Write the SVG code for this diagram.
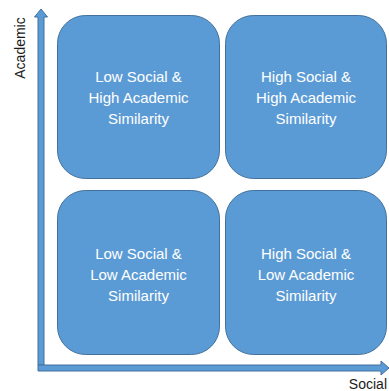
<svg xmlns="http://www.w3.org/2000/svg" width="389" height="391" viewBox="0 0 389 391">
<style>
.box{fill:#5B9BD5;stroke:#41719C;stroke-width:1}
.arr{fill:#5B9BD5;stroke:#41719C;stroke-width:1}
.lbl{font-family:"Liberation Sans",Arial,sans-serif;font-size:15px;fill:#FFFFFF;text-anchor:middle}
.ax{font-family:"Liberation Sans",Arial,sans-serif;font-size:14px;fill:#1a1a1a}
</style>
<rect width="389" height="391" fill="#FFFFFF"/>
<g id="connectors">
<polygon class="arr" points="38,365 38,17 34.5,17 41,9 47.5,17 44,17 44,365"/>
<polygon class="arr" points="38,365 381,365 381,361 389,368 381,375 381,371 38,371"/>
</g>
<g id="node-tl">
<rect class="box" x="57.5" y="15.5" width="162" height="163" rx="28" ry="28"/>
<text class="lbl" x="138.5" y="82">Low Social &amp;</text>
<text class="lbl" x="138.5" y="103">High Academic</text>
<text class="lbl" x="138.5" y="124">Similarity</text>
</g>
<g id="node-tr">
<rect class="box" x="225.5" y="15.5" width="161" height="163" rx="28" ry="28"/>
<text class="lbl" x="306" y="82">High Social &amp;</text>
<text class="lbl" x="306" y="103">High Academic</text>
<text class="lbl" x="306" y="124">Similarity</text>
</g>
<g id="node-bl">
<rect class="box" x="57.5" y="190.5" width="162" height="164" rx="28" ry="28"/>
<text class="lbl" x="138.5" y="259">Low Social &amp;</text>
<text class="lbl" x="138.5" y="280">Low Academic</text>
<text class="lbl" x="138.5" y="301">Similarity</text>
</g>
<g id="node-br">
<rect class="box" x="225.5" y="190.5" width="161" height="164" rx="28" ry="28"/>
<text class="lbl" x="306" y="259">High Social &amp;</text>
<text class="lbl" x="306" y="280">Low Academic</text>
<text class="lbl" x="306" y="301">Similarity</text>
</g>
<g id="axis-labels">
<text class="ax" transform="translate(25,48) rotate(-90)" text-anchor="middle">Academic</text>
<text class="ax" x="387" y="389" text-anchor="end">Social</text>
</g>
</svg>
